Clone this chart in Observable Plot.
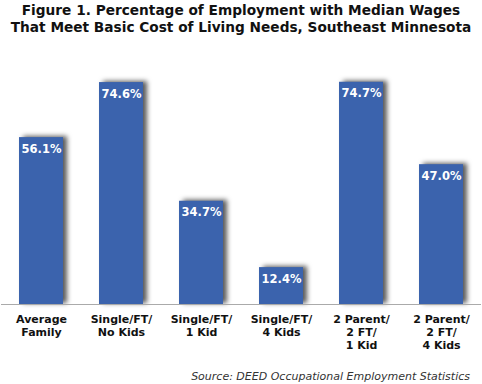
<!DOCTYPE html>
<html>
<head>
<meta charset="utf-8">
<script src="https://cdn.jsdelivr.net/npm/d3@7"></script>
<script src="https://cdn.jsdelivr.net/npm/@observablehq/plot@0.6"></script>
<style>
  html, body { margin: 0; padding: 0; background: #fff; }
  #wrap { width: 482px; height: 384px; position: relative; overflow: hidden; font-family: "DejaVu Sans", Verdana, sans-serif; }
  #title { position: absolute; left: 0; top: 2px; width: 482px; text-align: center; font-weight: bold; font-size: 13.7px; line-height: 17px; color: #111; }
  #chart { position: absolute; left: 0; top: 48px; }
  #caption { position: absolute; right: 12px; top: 370px; font-style: italic; font-size: 11px; color: #333; }
  #chart g[aria-label="bar"] rect { filter: drop-shadow(4px -1px 2.5px rgba(0,0,0,0.65)); }
</style>
</head>
<body>
<div id="wrap">
  <div id="title">Figure 1. Percentage of Employment with Median Wages<br>That Meet Basic Cost of Living Needs, Southeast Minnesota</div>
  <div id="chart"></div>
  <div id="caption">Source: DEED Occupational Employment Statistics</div>
</div>
<script>
const categories = ["Average\nFamily", "Single/FT/\nNo Kids", "Single/FT/\n1 Kid", "Single/FT/\n4 Kids", "2 Parent/\n2 FT/\n1 Kid", "2 Parent/\n2 FT/\n4 Kids"];
const values = [56.1, 74.6, 34.7, 12.4, 74.7, 47.0];
const valueLabels = ["56.1%", "74.6%", "34.7%", "12.4%", "74.7%", "47.0%"];

const data = categories.map((c, i) => ({cat: c, value: values[i], label: valueLabels[i]}));

const chart = Plot.plot({
  width: 482,
  height: 308,
  marginTop: 18,
  marginBottom: 52,
  marginLeft: 1,
  marginRight: 1,
  style: {fontFamily: "'DejaVu Sans', Verdana, sans-serif", background: "transparent"},
  x: {domain: categories, paddingInner: 0.45, paddingOuter: 0.225, label: null},
  y: {domain: [0, 80], axis: null},
  marks: [
    Plot.barY(data, {x: "cat", y: "value", fill: "#3b63ad"}),
    Plot.ruleY([0], {stroke: "#aaaaaa", strokeWidth: 1}),
    Plot.text(data, {x: "cat", y: "value", text: "label", fill: "white", fontWeight: "bold", fontSize: 11.5, lineAnchor: "top", dy: 7}),
    Plot.axisX({tickSize: 0, tickPadding: 9, fontSize: 11, fontWeight: "bold", lineHeight: 1.2, fill: "#111", label: null})
  ]
});
document.getElementById("chart").appendChild(chart);
</script>
</body>
</html>
